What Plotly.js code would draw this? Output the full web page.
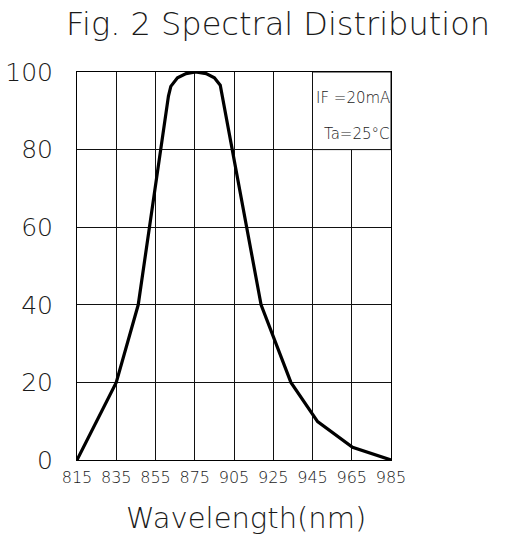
<!DOCTYPE html>
<html>
<head>
<meta charset="utf-8">
<script src="https://cdn.plot.ly/plotly-3.0.1.min.js"></script>
<style>html,body{margin:0;padding:0;background:#fff;}#chart{width:506px;height:540px;}</style>
</head>
<body>
<div id="chart"></div>
<script>
// Grid positions (20 nm per division on the drawn scale) and the printed tick labels
var tickPositions = [815, 835, 855, 875, 895, 915, 935, 955, 975];
var tickLabels = ["815", "835", "855", "875", "905", "925", "945", "965", "985"];
var yTicks = [0, 20, 40, 60, 80, 100];

// Curve (x on the drawn grid scale, y relative intensity %)
var wavelength = [815, 835, 846.2, 861.6, 862.8, 866.2, 870.6, 875.4, 880.8, 885, 888, 889.2, 908.8, 924, 937.6, 955.4, 975];
var intensity  = [0, 20, 40, 93.8, 96.3, 98.5, 99.6, 100, 99.6, 98.5, 96.6, 93.3, 40, 20, 9.9, 3.3, 0];

var conditionLines = ["IF =20mA", "Ta=25°C"];

var FONT = "DejaVu Sans";
var INK = "#1a1a1a";

var trace = {
  x: wavelength, y: intensity, type: "scatter", mode: "lines",
  line: {color: "#000", width: 3.2, shape: "linear"},
  hoverinfo: "skip", cliponaxis: false
};

var layout = {
  width: 506, height: 540,
  margin: {l: 77, r: 115, t: 72, b: 80, pad: 0},
  paper_bgcolor: "#fff", plot_bgcolor: "#fff",
  showlegend: false,
  title: {
    text: "Fig. 2 Spectral Distribution",
    font: {family: FONT, size: 32, color: INK, weight: 300},
    xref: "container", x: 278/506, xanchor: "center",
    yref: "container", y: 1 - 24/540, yanchor: "middle"
  },
  xaxis: {
    range: [815, 975], tickvals: tickPositions, ticktext: tickLabels,
    showgrid: true, gridcolor: "#111", gridwidth: 1,
    zeroline: false, showline: true, linecolor: "#000", linewidth: 1, mirror: true,
    ticks: "", ticklabelstandoff: 3,
    tickfont: {family: FONT, size: 16, color: INK, weight: 300}
  },
  yaxis: {
    range: [0, 100], tickvals: yTicks,
    showgrid: true, gridcolor: "#111", gridwidth: 1,
    zeroline: false, showline: true, linecolor: "#000", linewidth: 1, mirror: true,
    ticks: "", ticklabelstandoff: 18,
    tickfont: {family: FONT, size: 25, color: INK, weight: 300}
  },
  shapes: [{
    type: "rect", xref: "x", yref: "y",
    x0: tickPositions[6], x1: tickPositions[8], y0: 80, y1: 100,
    fillcolor: "#fff", line: {color: "#111", width: 1}, layer: "between"
  }],
  annotations: [
    {text: conditionLines[0], xref: "x", yref: "y", x: tickPositions[8], y: 93.2,
     xanchor: "right", yanchor: "middle", showarrow: false, xshift: 1,
     font: {family: FONT, size: 15, color: INK, weight: 300}},
    {text: conditionLines[1], xref: "x", yref: "y", x: tickPositions[8], y: 84,
     xanchor: "right", yanchor: "middle", showarrow: false, xshift: 1,
     font: {family: FONT, size: 15, color: INK, weight: 300}},
    {text: "Wavelength(nm)", xref: "paper", yref: "paper",
     x: (246 - 77) / 314, y: -(518 - 460) / 388, xanchor: "center", yanchor: "middle",
     showarrow: false, font: {family: FONT, size: 29, color: INK, weight: 300}}
  ]
};

Plotly.newPlot("chart", [trace], layout, {displayModeBar: false, staticPlot: true});
</script>
</body>
</html>
